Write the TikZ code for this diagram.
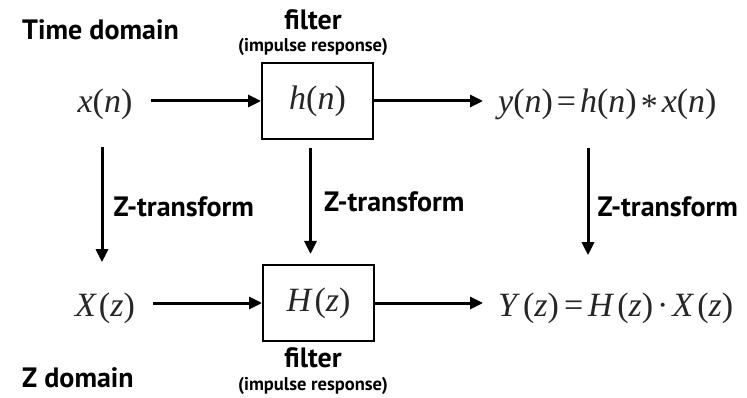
\documentclass[tikz,border=0pt]{standalone}
\usepackage{fontspec}
\setmainfont{PT Sans}
\newfontfamily\tnr{Liberation Serif}
\usetikzlibrary{arrows.meta}
\tikzset{
  lbl/.style={font=\bfseries\fontsize{28}{30}\selectfont, inner sep=0pt},
  sublbl/.style={font=\bfseries\fontsize{18.5}{20}\selectfont, inner sep=0pt},
  mth/.style={font=\tnr\fontsize{34}{40}\selectfont, text=black!85, inner sep=0pt},
  blk/.style={draw, line width=2pt, minimum width=111pt, minimum height=76pt, inner sep=0pt},
  arr/.style={line width=3pt, -{Triangle[length=13pt,width=12pt]}},
}
\begin{document}
\begin{tikzpicture}[x=1pt,y=-1pt]
\fill[white] (0,0) rectangle (747,398);
\useasboundingbox (0,0) rectangle (747,398);

% texts
\node[lbl, anchor=base west] (td) at (22,40) {Time domain};
\node[lbl, anchor=base] (f1) at (313,30) {filter};
\node[sublbl, anchor=base] (ir1) at (313,52) {(impulse response)};
\node[lbl, anchor=base] (f2) at (313,367) {filter};
\node[sublbl, anchor=base] (ir2) at (313,390) {(impulse response)};
\node[lbl, anchor=base west] (zd) at (22,387) {Z domain};

% math nodes
\node[mth, anchor=base] (xn) at (105,113) {\textit{x}(\textit{n})};
\node[blk, mth] (hn) at (317.5,101) {\textit{h}(\textit{n})};
\node[mth, anchor=base west] (yn) at (498,113) {\textit{y}(\textit{n})\kern4pt=\kern4pt\textit{h}(\textit{n})\kern4pt\raisebox{-0.14em}{*}\kern4pt\textit{x}(\textit{n})};
\node[mth, anchor=base] (Xz) at (105,316) {\textit{X}\kern2pt(\textit{z})};
\node[blk, mth] (Hz) at (318.5,303) {\textit{H}\kern2pt(\textit{z})};
\node[mth, anchor=base west] (Yz) at (498,316) {\textit{Y}\kern3pt(\textit{z})\kern5pt=\kern5pt\textit{H}\kern3pt(\textit{z})\kern4pt·\kern4pt\textit{X}\kern3pt(\textit{z})};

% horizontal arrows
\draw[arr, shorten <=18pt] (xn.east |- hn) -- (hn.west);
\draw[arr, shorten >=15pt] (hn.east) -- (yn.west |- hn);
\draw[arr, shorten <=18pt] (Xz.east |- Hz) -- (Hz.west);
\draw[arr, shorten >=15pt] (Hz.east) -- (Yz.west |- Hz);

% vertical arrows
\draw[arr, shorten <=27pt, shorten >=30pt] ([xshift=-3pt]xn.south) -- ([xshift=-3pt]xn.south |- Xz.north)
  node[lbl, midway, anchor=west, xshift=10pt] {Z-transform};
\draw[arr, shorten <=8pt, shorten >=10pt] ([xshift=-7pt]hn.south) -- ([xshift=-7pt]hn.south |- Hz.north)
  node[lbl, midway, anchor=west, xshift=12pt] {Z-transform};
\draw[arr, shorten <=27pt, shorten >=37pt] ([xshift=90pt]yn.south west) -- ([xshift=90pt]yn.south west |- Yz.north)
  node[lbl, midway, anchor=west, xshift=8pt] {Z-transform};
\end{tikzpicture}
\end{document}
